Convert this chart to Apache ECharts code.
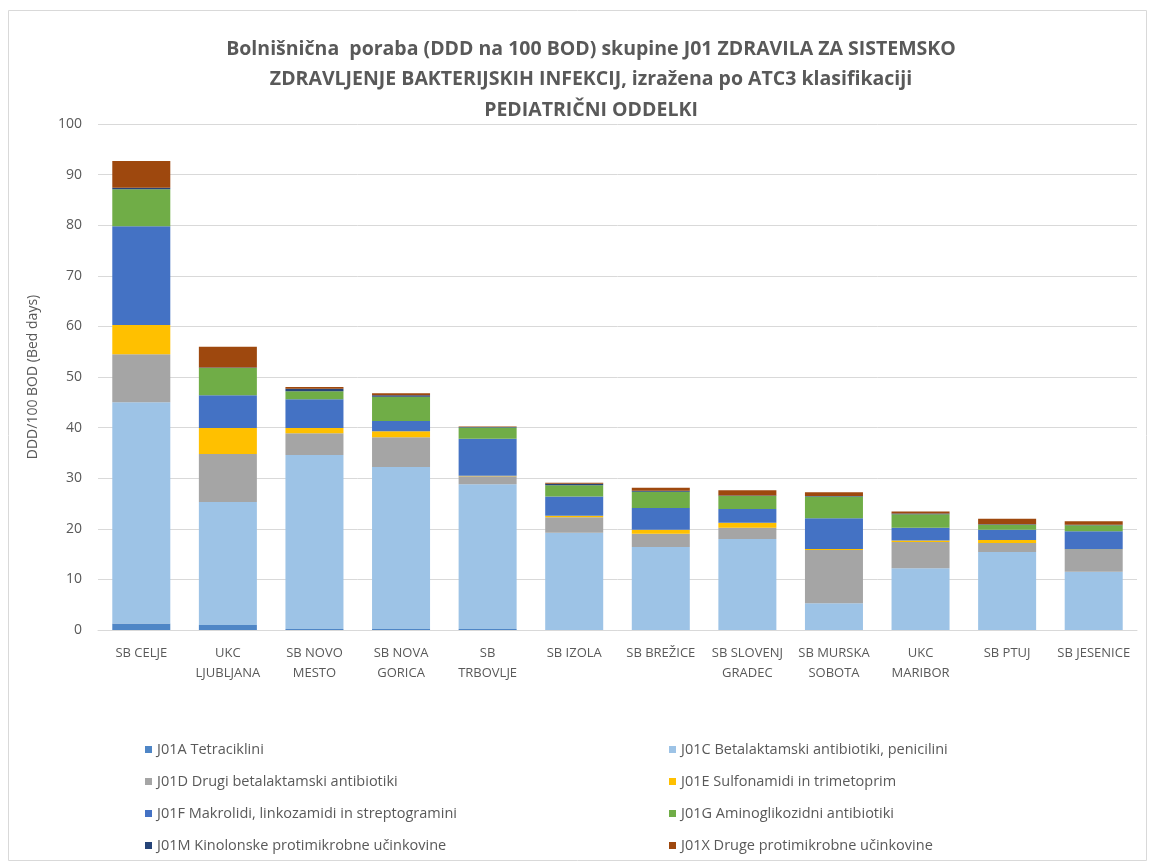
<!DOCTYPE html>
<html>
<head>
<meta charset="utf-8">
<script src="https://cdn.jsdelivr.net/npm/echarts@6/dist/echarts.min.js"></script>
<style>
  html, body { margin: 0; padding: 0; background: #fff; }
  #chart { width: 1150px; height: 866px; }
</style>
</head>
<body>
<div id="chart"></div>
<script>
// bolnisnice (kategorije)
var categories = ['SB CELJE', 'UKC\nLJUBLJANA', 'SB NOVO\nMESTO', 'SB NOVA\nGORICA', 'SB\nTRBOVLJE',
  'SB IZOLA', 'SB BREŽICE', 'SB SLOVENJ\nGRADEC', 'SB MURSKA\nSOBOTA', 'UKC\nMARIBOR', 'SB PTUJ', 'SB JESENICE'];

// DDD na 100 BOD po ATC3 skupinah
var j01a = [1.3, 1.0, 0.2, 0.2, 0.2, 0, 0, 0, 0, 0, 0, 0];
var j01c = [43.7, 24.3, 34.4, 32.0, 28.6, 19.2, 16.4, 18.0, 5.3, 12.2, 15.4, 11.5];
var j01d = [9.5, 9.5, 4.3, 5.9, 1.6, 3.1, 2.6, 2.2, 10.5, 5.2, 1.8, 4.3];
var j01e = [5.8, 5.1, 1.0, 1.2, 0.1, 0.3, 0.8, 1.0, 0.2, 0.3, 0.6, 0.1];
var j01f = [19.5, 6.5, 5.7, 2.0, 7.3, 3.8, 4.3, 2.7, 6.1, 2.5, 2.0, 3.6];
var j01g = [7.3, 5.4, 1.6, 4.8, 2.2, 2.2, 3.2, 2.6, 4.3, 2.7, 1.0, 1.2];
var j01m = [0.3, 0.1, 0.5, 0.3, 0.1, 0.3, 0.2, 0.1, 0.1, 0.1, 0.1, 0.1];
var j01x = [5.3, 4.1, 0.3, 0.4, 0.1, 0.2, 0.6, 1.0, 0.7, 0.4, 1.1, 0.7];

var yTicks = [0, 10, 20, 30, 40, 50, 60, 70, 80, 90, 100];

var names = [
  'J01A Tetraciklini',
  'J01C Betalaktamski antibiotiki, penicilini',
  'J01D Drugi betalaktamski antibiotiki',
  'J01E Sulfonamidi in trimetoprim',
  'J01F Makrolidi, linkozamidi in streptogramini',
  'J01G Aminoglikozidni antibiotiki',
  'J01M Kinolonske protimikrobne učinkovine',
  'J01X Druge protimikrobne učinkovine'
];
var values = [j01a, j01c, j01d, j01e, j01f, j01g, j01m, j01x];
var colors = ['#4f86c6', '#9dc3e6', '#a5a5a5', '#ffc000', '#4472c4', '#70ad47', '#264478', '#9e480e'];

var font = '"Open Sans", "Liberation Sans", sans-serif';

var series = names.map(function (n, i) {
  return {
    name: n,
    type: 'bar',
    stack: 'skupaj',
    barCategoryGap: '33%',
    data: values[i],
    itemStyle: { color: colors[i] }
  };
});

var chart = echarts.init(document.getElementById('chart'));
chart.setOption({
  animation: false,
  color: colors,
  textStyle: { fontFamily: font },
  title: {
    text: 'Bolnišnična  poraba (DDD na 100 BOD) skupine J01 ZDRAVILA ZA SISTEMSKO\nZDRAVLJENJE BAKTERIJSKIH INFEKCIJ, izražena po ATC3 klasifikaciji\nPEDIATRIČNI ODDELKI',
    left: 586,
    top: 29,
    textAlign: 'center',
    textStyle: { color: '#595959', fontSize: 19.5, fontWeight: 'bold', lineHeight: 30.5, fontFamily: font }
  },
  graphic: [{
    type: 'rect',
    shape: { x: 8.5, y: 10.5, width: 1138, height: 850 },
    style: { fill: 'none', stroke: '#d9d9d9', lineWidth: 1 },
    silent: true
  }],
  legend: [{
    data: [names[0], names[2], names[4], names[6]],
    orient: 'vertical',
    left: 140,
    top: 737,
    icon: 'rect',
    itemWidth: 7,
    itemHeight: 7,
    itemGap: 17,
    textStyle: { color: '#595959', fontSize: 14.5, fontFamily: font }
  }, {
    data: [names[1], names[3], names[5], names[7]],
    orient: 'vertical',
    left: 664,
    top: 737,
    icon: 'rect',
    itemWidth: 7,
    itemHeight: 7,
    itemGap: 17,
    textStyle: { color: '#595959', fontSize: 14.5, fontFamily: font }
  }],
  grid: { left: 98, right: 13, top: 124, bottom: 236, containLabel: false },
  xAxis: {
    type: 'category',
    data: categories,
    axisTick: { show: false },
    axisLine: { lineStyle: { color: '#d9d9d9' } },
    axisLabel: { color: '#595959', fontSize: 13, interval: 0, lineHeight: 20, margin: 13 }
  },
  yAxis: {
    type: 'value',
    min: yTicks[0],
    max: yTicks[yTicks.length - 1],
    interval: 10,
    name: 'DDD/100 BOD (Bed days)',
    nameLocation: 'middle',
    nameGap: 58,
    nameTextStyle: { color: '#595959', fontSize: 14 },
    axisLabel: { color: '#595959', fontSize: 14, margin: 16 },
    splitLine: { lineStyle: { color: '#d9d9d9' } }
  },
  series: series
});
</script>
</body>
</html>
